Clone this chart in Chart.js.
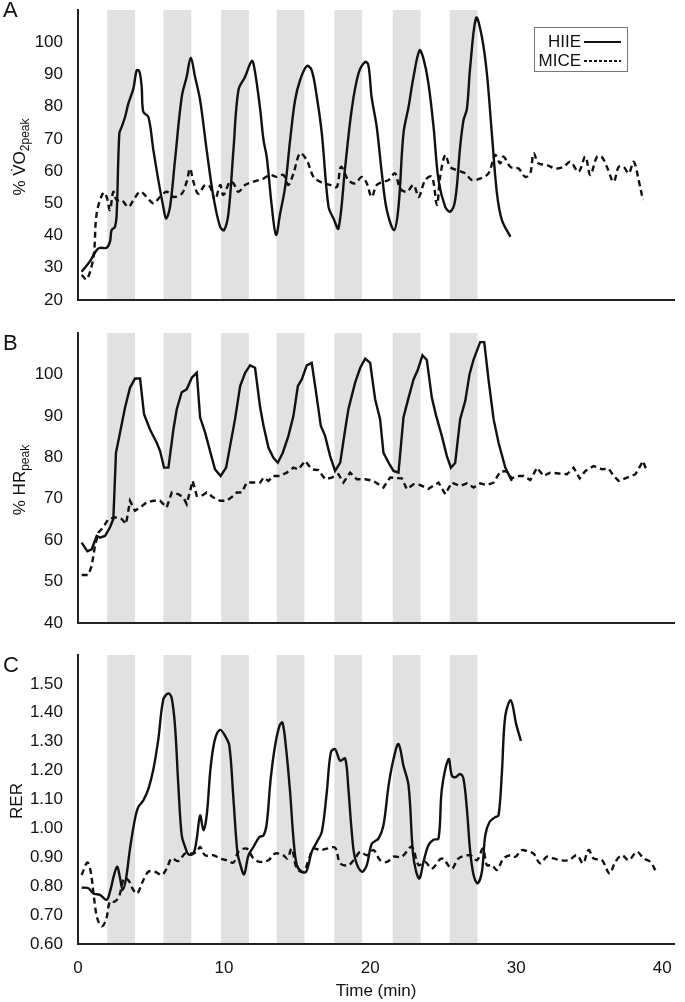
<!DOCTYPE html>
<html>
<head>
<meta charset="utf-8">
<script src="https://cdn.jsdelivr.net/npm/chart.js@4.4.1/dist/chart.umd.min.js"></script>
<style>
  body { margin: 0; background: #fff; }
  #wrap { position: relative; width: 685px; height: 1002px; font-family: "Liberation Sans", Arial, sans-serif; color: #111; }
  canvas { position: absolute; left: 0; }
  .panel { position: absolute; left: 3px; font-size: 22px; line-height: 22px; }
  .ytitle { position: absolute; font-size: 17px; line-height: 17px; white-space: nowrap; transform: translate(-50%, -50%) rotate(-90deg); }
  .ytitle sub { font-size: 12px; vertical-align: -4px; line-height: 0; }
  #legend { position: absolute; left: 534px; top: 27px; width: 92px; height: 43px; border: 1px solid #777; font-size: 17px; }
  #legend .lbl { position: absolute; right: 46px; line-height: 17px; }
  #legend .ln { position: absolute; left: 49px; width: 37px; height: 2px; }
</style>
</head>
<body>
<div id="wrap">
  <canvas id="chartA" width="685" height="320" style="top:0"></canvas>
  <canvas id="chartB" width="685" height="320" style="top:320px"></canvas>
  <canvas id="chartC" width="685" height="362" style="top:640px"></canvas>

  <div class="panel" style="top:-1px">A</div>
  <div class="panel" style="top:332px">B</div>
  <div class="panel" style="top:654px">C</div>

  <div class="ytitle" style="left:19px; top:157px">% V̇O<sub>2peak</sub></div>
  <div class="ytitle" style="left:19px; top:480px">% HR<sub>peak</sub></div>
  <div class="ytitle" style="left:16px; top:801px">RER</div>

  <div id="legend">
    <span class="lbl" style="top:5px">HIIE</span>
    <span class="ln" style="top:13px; background:#111"></span>
    <span class="lbl" style="top:24px">MICE</span>
    <span class="ln" style="top:32px; background:repeating-linear-gradient(90deg,#111 0 3px,transparent 3px 5px)"></span>
  </div>
</div>

<script>
// Интервалы высокой интенсивности (серые полосы), мин
const bandStart = [2.0, 5.85, 9.8, 13.6, 17.55, 21.55, 25.45];
const bandLen = 1.9;

// A: %VO2peak
const aHiieT = [0.25, 0.8, 1.28, 1.5, 1.96, 2.19, 2.3, 2.53, 2.65, 2.83, 2.99, 3.22, 3.45, 3.79, 4.02, 4.2, 4.36, 4.47, 4.82, 5.16, 5.5, 5.84, 6.03, 6.3, 6.64, 7.1, 7.44, 7.72, 8.01, 8.36, 8.81, 9.27, 9.73, 10.0, 10.3, 10.64, 10.98, 11.44, 11.9, 12.1, 12.47, 12.7, 12.92, 13.27, 13.56, 13.84, 14.18, 14.52, 14.86, 15.2, 15.66, 16.0, 16.35, 16.69, 17.15, 17.49, 17.83, 18.29, 18.74, 19.2, 19.66, 19.88, 20.1, 20.45, 20.8, 21.14, 21.64, 21.94, 22.28, 22.63, 22.97, 23.38, 23.65, 23.99, 24.34, 24.68, 25.14, 25.48, 25.82, 26.16, 26.39, 26.62, 26.85, 27.26, 27.65, 27.99, 28.33, 28.68, 29.02, 29.6];
const aHiieV = [28.8, 31.9, 35.5, 36.2, 36.2, 38.1, 41.7, 42.7, 46.9, 71.7, 73.7, 76.8, 81, 85.6, 91.3, 91, 86.1, 78.4, 76.8, 66.5, 57.2, 48.9, 45.3, 48.9, 63.4, 83, 89.3, 95.2, 89.3, 82, 66.5, 52, 42.7, 41.7, 46.9, 66.5, 85.1, 89.3, 94.2, 91.3, 79.2, 69.6, 64.4, 48.9, 40.2, 46.9, 55.1, 69.6, 82, 88.2, 92.6, 91.3, 83, 71.7, 48.9, 45.3, 42.2, 61.3, 79.2, 90.3, 93.9, 92.9, 83, 73.7, 59.3, 47.9, 41.7, 48.9, 71.7, 80, 89.3, 97.5, 94.9, 87.2, 73.7, 57.2, 48.9, 47.4, 51, 67.5, 75.8, 79.2, 92.4, 107.6, 101.6, 90.3, 71.7, 53.1, 44.8, 39.6];
const aMiceT = [0.25, 0.6, 1.06, 1.28, 1.73, 1.96, 2.19, 2.42, 2.65, 2.99, 3.45, 3.79, 4.25, 4.7, 5.16, 5.62, 6.07, 6.53, 7.1, 7.44, 7.67, 7.9, 8.24, 8.7, 9.04, 9.38, 9.73, 9.95, 10.4, 10.64, 10.98, 11.44, 12.01, 12.7, 13.15, 13.6, 14.06, 14.4, 14.75, 15.2, 15.66, 16.12, 16.58, 17.26, 17.72, 18.0, 18.51, 18.97, 19.43, 19.77, 20.1, 20.45, 20.91, 21.26, 21.71, 22.05, 22.51, 22.97, 23.32, 23.77, 24.23, 24.57, 24.79, 25.14, 25.48, 25.94, 26.5, 26.97, 27.53, 28.1, 28.56, 28.9, 29.13, 29.6, 30.16, 30.62, 30.96, 31.19, 31.53, 32.1, 32.67, 33.24, 33.7, 34.27, 34.73, 35.07, 35.53, 35.84, 36.21, 36.67, 37.01, 37.35, 37.7, 38.04, 38.38, 38.67];
const aMiceV = [27.8, 26.4, 33.4, 46.9, 53.3, 52, 47.9, 53.6, 51, 51, 48.9, 51, 53.6, 52, 50, 52, 53.6, 52, 53, 56.7, 60.8, 56.7, 53, 55.7, 55.1, 51, 55.7, 52.6, 56.7, 56.2, 53.6, 55.7, 56.7, 57.7, 58.8, 58.2, 58.8, 55.7, 59.3, 65.5, 63.4, 58.2, 56.7, 55.7, 55.1, 61.3, 57.2, 56.2, 58.2, 56.2, 52, 55.7, 56.7, 57.2, 59.3, 54.6, 53.6, 55.7, 52, 57.2, 58.2, 49.5, 58.2, 65, 61.3, 60.3, 59.3, 57.2, 57.7, 59.3, 65, 62.4, 64.5, 61.3, 60.8, 58.2, 59.3, 65.5, 62.4, 61.9, 60.8, 61.3, 62.9, 59.8, 64.5, 58.8, 64.5, 64.5, 61.3, 56.7, 61.3, 61.3, 59.3, 62.9, 57.2, 51];

// B: %HRpeak
const bHiieT = [0.25, 0.64, 0.94, 1.28, 1.5, 1.85, 2.19, 2.42, 2.6, 2.88, 3.22, 3.56, 3.9, 4.25, 4.52, 4.93, 5.39, 5.62, 5.89, 6.19, 6.53, 6.76, 7.1, 7.44, 7.79, 8.13, 8.36, 8.7, 9.04, 9.38, 9.77, 10.14, 10.41, 10.75, 11.1, 11.44, 11.78, 12.12, 12.47, 12.7, 13.04, 13.38, 13.68, 14.02, 14.4, 14.75, 15.05, 15.32, 15.66, 16.0, 16.3, 16.62, 16.92, 17.26, 17.6, 17.95, 18.29, 18.51, 18.97, 19.32, 19.66, 20.0, 20.34, 20.68, 20.91, 21.26, 21.6, 21.94, 22.28, 22.63, 22.97, 23.27, 23.58, 23.88, 24.22, 24.52, 24.91, 25.25, 25.53, 25.82, 26.16, 26.51, 26.8, 27.08, 27.53, 27.81, 28.1, 28.45, 28.79, 29.25, 29.7];
const bHiieV = [59.4, 57.3, 57.8, 61, 60.6, 61, 63.1, 65.1, 81.1, 86, 92, 96.8, 99, 99, 90.4, 86.7, 83.5, 81.5, 77.5, 77.5, 86.7, 91.6, 95.7, 96.4, 99.2, 100.4, 89.6, 86, 81.5, 77.1, 75.5, 77.5, 82.7, 89.2, 97.2, 100.4, 102.2, 101.6, 92, 87.6, 82.3, 79.9, 78.7, 81.1, 85.1, 90, 97.2, 98.8, 102.2, 102.8, 95.6, 87.6, 85.1, 80.3, 76.7, 78.7, 86.7, 91.6, 98, 101.6, 103.8, 102.8, 94, 89.2, 81.1, 78.7, 76.7, 76.3, 89.6, 94.4, 98.8, 101.2, 104.6, 103.5, 94.4, 90, 85.1, 80.3, 77.5, 78.6, 89.2, 93.6, 100, 103.6, 107.8, 107.8, 98.8, 89.2, 83.5, 77.5, 74.3];
const bMiceT = [0.25, 0.71, 0.94, 1.16, 1.39, 1.73, 2.08, 2.53, 2.99, 3.29, 3.56, 3.9, 4.25, 4.7, 5.16, 5.62, 6.07, 6.42, 6.87, 7.21, 7.44, 7.85, 8.13, 8.47, 8.81, 9.27, 9.73, 10.18, 10.64, 10.87, 11.21, 11.55, 12.01, 12.47, 12.7, 13.04, 13.38, 13.84, 14.29, 14.75, 15.09, 15.55, 16.0, 16.46, 16.92, 17.37, 17.83, 18.17, 18.63, 19.09, 19.66, 20.23, 20.91, 21.37, 22.17, 22.51, 22.97, 23.42, 23.99, 24.68, 25.14, 25.59, 26.16, 26.62, 27.08, 27.53, 27.99, 28.45, 28.9, 29.32, 29.7, 30.05, 30.5, 30.96, 31.42, 31.87, 32.33, 32.9, 33.47, 33.93, 34.34, 34.73, 35.3, 35.87, 36.32, 36.67, 37.01, 37.58, 38.15, 38.49, 38.67, 38.9];
const bMiceV = [51.6, 51.6, 53.8, 58.6, 61.8, 63.1, 65.1, 65.5, 65.1, 63.9, 69.5, 67.1, 67.9, 69.1, 69.5, 69.5, 67.9, 71.5, 71.1, 70.3, 68.7, 74.3, 70.7, 70.7, 71.5, 70.3, 69.5, 69.5, 70.7, 71.5, 71.5, 73.9, 73.9, 73.9, 75.1, 74.3, 75.5, 75.5, 76.3, 77.5, 77.1, 79.1, 77.1, 76.9, 74.7, 75.1, 75.9, 73.9, 76.3, 74.7, 74.7, 74.3, 72.7, 75.1, 74.9, 72.3, 73.5, 73.3, 72.4, 73.9, 71.1, 73.9, 73.1, 73.7, 72.7, 73.7, 73.3, 73.9, 76.5, 76.7, 74.9, 75.5, 75.5, 74.5, 77.5, 75.5, 76.3, 76.1, 75.9, 77.5, 74.9, 76.7, 77.9, 77.1, 77.3, 75.5, 74.3, 75.1, 75.9, 77.9, 79.1, 77.1];

// C: RER
const cHiieT = [0.25, 0.71, 1.05, 1.5, 1.96, 2.19, 2.47, 2.69, 2.88, 3.06, 3.29, 3.56, 3.9, 4.13, 4.47, 4.82, 5.16, 5.5, 5.84, 6.19, 6.41, 6.64, 6.87, 7.1, 7.33, 7.56, 7.9, 8.13, 8.36, 8.59, 8.81, 9.09, 9.38, 9.73, 10.07, 10.36, 10.64, 10.91, 11.12, 11.37, 11.67, 12.01, 12.42, 12.7, 12.92, 13.19, 13.49, 13.79, 14.0, 14.25, 14.52, 14.75, 14.98, 15.32, 15.62, 16.0, 16.35, 16.69, 17.03, 17.31, 17.6, 17.95, 18.29, 18.51, 18.74, 18.97, 19.43, 19.77, 20.11, 20.57, 20.91, 21.26, 21.6, 21.94, 22.28, 22.63, 22.92, 23.15, 23.38, 23.65, 23.99, 24.34, 24.68, 24.91, 25.37, 25.59, 25.82, 26.16, 26.39, 26.62, 26.85, 27.08, 27.35, 27.65, 27.88, 28.17, 28.56, 28.79, 29.02, 29.25, 29.63, 30.0, 30.32];
const cHiieV = [0.795, 0.793, 0.775, 0.77, 0.753, 0.781, 0.839, 0.867, 0.827, 0.787, 0.827, 0.93, 1.033, 1.074, 1.097, 1.137, 1.205, 1.309, 1.446, 1.467, 1.452, 1.355, 1.148, 0.976, 0.936, 0.91, 0.913, 0.965, 1.045, 0.993, 1.045, 1.217, 1.309, 1.341, 1.32, 1.286, 1.102, 0.919, 0.873, 0.841, 0.907, 0.936, 0.97, 0.976, 1.016, 1.171, 1.286, 1.355, 1.366, 1.274, 1.125, 0.965, 0.873, 0.85, 0.85, 0.919, 0.953, 0.988, 1.125, 1.263, 1.274, 1.234, 1.242, 1.137, 0.988, 0.896, 0.85, 0.873, 0.947, 0.965, 1.011, 1.148, 1.24, 1.292, 1.217, 1.148, 0.919, 0.85, 0.827, 0.884, 0.942, 0.961, 0.965, 1.137, 1.24, 1.183, 1.177, 1.188, 1.171, 1.068, 0.919, 0.839, 0.81, 0.85, 0.976, 1.022, 1.039, 1.045, 1.194, 1.389, 1.443, 1.36, 1.303];
const cMiceT = [0.25, 0.64, 0.87, 1.1, 1.32, 1.62, 1.92, 2.19, 2.53, 2.83, 3.15, 3.45, 3.79, 4.06, 4.43, 4.82, 5.28, 5.73, 6.07, 6.41, 6.87, 7.33, 7.79, 8.13, 8.36, 8.7, 9.27, 9.73, 10.18, 10.64, 10.98, 11.55, 12.01, 12.47, 13.04, 13.49, 14.06, 14.34, 14.63, 14.98, 15.43, 15.78, 16.12, 16.58, 17.03, 17.6, 17.95, 18.51, 18.97, 19.32, 19.77, 20.23, 20.68, 21.14, 21.6, 22.17, 22.85, 23.32, 23.77, 24.22, 24.91, 25.59, 26.05, 26.85, 27.31, 27.72, 27.99, 28.33, 28.68, 29.13, 29.6, 29.94, 30.39, 30.84, 31.19, 31.64, 32.1, 32.56, 33.01, 33.58, 34.16, 34.57, 34.95, 35.3, 35.87, 36.39, 36.78, 37.24, 37.7, 38.26, 38.72, 39.18, 39.63];
const cMiceV = [0.839, 0.882, 0.85, 0.758, 0.689, 0.661, 0.684, 0.747, 0.747, 0.767, 0.827, 0.821, 0.787, 0.775, 0.816, 0.85, 0.85, 0.839, 0.861, 0.896, 0.887, 0.913, 0.913, 0.919, 0.936, 0.907, 0.907, 0.896, 0.89, 0.882, 0.919, 0.93, 0.896, 0.884, 0.89, 0.913, 0.907, 0.896, 0.93, 0.861, 0.85, 0.89, 0.93, 0.925, 0.93, 0.933, 0.879, 0.873, 0.896, 0.919, 0.907, 0.925, 0.89, 0.884, 0.902, 0.902, 0.936, 0.873, 0.884, 0.861, 0.896, 0.861, 0.896, 0.907, 0.89, 0.93, 0.873, 0.873, 0.856, 0.896, 0.907, 0.902, 0.925, 0.919, 0.913, 0.879, 0.902, 0.896, 0.89, 0.89, 0.907, 0.879, 0.925, 0.896, 0.89, 0.844, 0.884, 0.907, 0.89, 0.919, 0.896, 0.884, 0.844];

// Подписи оси X
const xTicks = [0, 10, 20, 30, 40];

Chart.defaults.font.family = '"Liberation Sans", Arial, sans-serif';
Chart.defaults.color = '#111';

function pts(t, v) {
    return t.map((x, i) => ({ x: x, y: v[i] }));
}

// Серые полосы под линиями
const bandsPlugin = {
    id: 'bands',
    beforeDraw(chart) {
        const { ctx, chartArea, scales } = chart;
        ctx.save();
        ctx.fillStyle = '#e1e1e1';
        bandStart.forEach(s => {
            const x1 = scales.x.getPixelForValue(s);
            const x2 = scales.x.getPixelForValue(s + bandLen);
            ctx.fillRect(x1, chartArea.top, x2 - x1, chartArea.bottom - chartArea.top);
        });
        ctx.restore();
    }
};

function makePanel(id, cfg) {
    const ctx = document.getElementById(id).getContext('2d');
    return new Chart(ctx, {
        type: 'line',
        data: {
            datasets: [
                {
                    label: 'HIIE',
                    data: pts(cfg.hiieT, cfg.hiieV),
                    borderColor: '#111',
                    borderWidth: 2.4,
                    pointRadius: 0,
                    tension: cfg.tension,
                    fill: false
                },
                {
                    label: 'MICE',
                    data: pts(cfg.miceT, cfg.miceV),
                    borderColor: '#111',
                    borderWidth: 2.4,
                    borderDash: [6, 4],
                    pointRadius: 0,
                    tension: cfg.tension,
                    fill: false
                }
            ]
        },
        options: {
            responsive: false,
            animation: false,
            layout: { padding: { left: 0, right: 11, top: cfg.top, bottom: 0 } },
            plugins: { legend: { display: false }, tooltip: { enabled: false } },
            scales: {
                x: {
                    type: 'linear',
                    min: 0,
                    max: 40.8,
                    grid: { display: false, drawTicks: false },
                    border: { color: '#222', width: 2 },
                    afterBuildTicks: s => { s.ticks = xTicks.map(v => ({ value: v })); },
                    ticks: { display: cfg.xLabels, padding: 14, font: { size: 17 }, maxRotation: 0, autoSkip: false },
                    title: { display: cfg.xLabels, text: 'Time (min)', font: { size: 17 }, padding: { top: 0, bottom: 0 } },
                    afterFit: s => { s.height = cfg.xHeight; s.paddingLeft = 0; s.paddingRight = 0; }
                },
                y: {
                    min: cfg.yMin,
                    max: cfg.yMax,
                    grid: { display: false, drawTicks: false },
                    border: { color: '#222', width: 2 },
                    afterBuildTicks: s => { s.ticks = cfg.yTicks.map(v => ({ value: v })); },
                    ticks: { padding: 15, font: { size: 17 }, callback: cfg.yFmt },
                    afterFit: s => { s.width = 78; s.paddingTop = 0; s.paddingBottom = 0; }
                }
            }
        },
        plugins: [bandsPlugin]
    });
}

makePanel('chartA', {
    hiieT: aHiieT, hiieV: aHiieV, miceT: aMiceT, miceV: aMiceV,
    tension: 0.35, top: 10, xHeight: 20, xLabels: false,
    yMin: 20, yMax: 110, yTicks: [20, 30, 40, 50, 60, 70, 80, 90, 100], yFmt: v => v
});
makePanel('chartB', {
    hiieT: bHiieT, hiieV: bHiieV, miceT: bMiceT, miceV: bMiceV,
    tension: 0, top: 13, xHeight: 17, xLabels: false,
    yMin: 40, yMax: 110, yTicks: [40, 50, 60, 70, 80, 90, 100], yFmt: v => v
});
makePanel('chartC', {
    hiieT: cHiieT, hiieV: cHiieV, miceT: cMiceT, miceV: cMiceV,
    tension: 0.35, top: 15, xHeight: 58, xLabels: true,
    yMin: 0.6, yMax: 1.6, yTicks: [0.6, 0.7, 0.8, 0.9, 1.0, 1.1, 1.2, 1.3, 1.4, 1.5], yFmt: v => v.toFixed(2)
});
</script>
</body>
</html>
